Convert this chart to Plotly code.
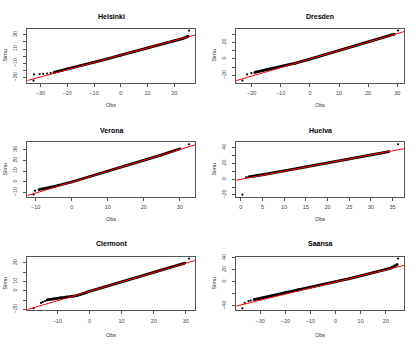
import plotly.graph_objects as go

# Q-Q plots of simulated vs observed values, one panel per station
stations = ["Helsinki", "Dresden", "Verona", "Huelva", "Clermont", "Saansa"]

# dense part of each Q-Q cloud (reads as a thick line)
helsinki_obs = [-25.0, -22.0, -20.0, -15.0, -10.0, -5.0, 0.0, 5.0, 10.0, 15.0, 20.0, 23.0, 25.2]
helsinki_simu = [-22.7, -20.0, -17.6, -13.3, -8.6, -3.7, 1.4, 6.4, 11.5, 16.6, 21.6, 24.6, 27.8]
dresden_obs = [-19.0, -15.0, -10.0, -5.0, 0.0, 5.0, 10.0, 15.0, 20.0, 25.0, 29.0]
dresden_simu = [-16.5, -13.3, -9.6, -5.3, -0.3, 4.8, 10.0, 15.2, 20.3, 25.5, 29.9]
verona_obs = [-9.1, -7.0, -5.0, 0.0, 5.0, 10.0, 15.0, 20.0, 25.0, 30.1]
verona_simu = [-7.4, -6.0, -4.5, -0.2, 4.8, 9.9, 15.0, 20.1, 25.2, 31.0]
huelva_obs = [1.75, 3.0, 5.0, 10.0, 15.0, 20.0, 25.0, 30.0, 34.2]
huelva_simu = [2.9, 3.8, 5.6, 10.4, 15.3, 20.4, 25.5, 30.5, 35.0]
clermont_obs = [-13.2, -11.0, -9.0, -7.0, -5.0, -4.0, -2.0, 0.0, 5.0, 10.0, 15.0, 20.0, 25.0, 29.7]
clermont_simu = [-9.9, -8.6, -7.6, -6.7, -5.8, -5.3, -3.0, -0.6, 4.4, 9.5, 14.6, 19.6, 24.7, 29.9]
saansa_obs = [-32.5, -30.0, -25.0, -20.0, -15.0, -10.0, -5.0, 0.0, 5.0, 10.0, 15.0, 20.0, 22.0, 24.6]
saansa_simu = [-29.4, -27.2, -22.3, -17.5, -12.8, -8.5, -4.3, -0.3, 4.8, 9.9, 14.9, 20.0, 22.8, 28.9]

# isolated points in the tails
helsinki_tail_obs = [-32.6, -32.4, -30.3, -29.0, -27.5, -26.2, 25.5]
helsinki_tail_simu = [-34.1, -25.5, -25.0, -24.6, -24.2, -23.6, 35.9]
dresden_tail_obs = [-23.2, -21.6, -20.1, 30.3]
dresden_tail_simu = [-26.4, -18.9, -17.3, 34.3]
verona_tail_obs = [-10.6, -10.2, 32.6]
verona_tail_simu = [-12.0, -8.3, 35.2]
huelva_tail_obs = [0.36, 1.2, 36.3]
huelva_tail_simu = [-19.5, 2.2, 44.2]
clermont_tail_obs = [-17.4, -15.1, -14.5, -13.8, 31.0]
clermont_tail_simu = [-18.9, -13.1, -12.0, -11.0, 34.8]
saansa_tail_obs = [-37.1, -36.2, -34.7, -33.8, 24.9]
saansa_tail_simu = [-44.0, -34.8, -32.0, -31.0, 38.7]

# red reference line: intercept, slope
helsinki_fit = [1.4, 1.016]
dresden_fit = [-0.34, 1.03]
verona_fit = [-0.35, 1.02]
huelva_fit = [-0.17, 1.03]
clermont_fit = [-0.65, 1.013]
saansa_fit = [-0.3, 1.01]

x_ticks = [
    [-30, -20, -10, 0, 10, 20],
    [-20, -10, 0, 10, 20, 30],
    [-10, 0, 10, 20, 30],
    [0, 5, 10, 15, 20, 25, 30, 35],
    [-10, 0, 10, 20, 30],
    [-30, -20, -10, 0, 10, 20],
]
y_ticks = [
    [-30, -20, -10, 0, 10, 20, 30],
    [-20, -10, 0, 10, 20, 30],
    [-10, 0, 10, 20, 30],
    [-20, -10, 0, 10, 20, 30, 40],
    [-20, -10, 0, 10, 20, 30],
    [-40, -20, 0, 20, 40],
]
# R drops y labels that would overlap
y_tick_labels = [
    ["-30", "", "-10", "", "10", "", "30"],
    ["-20", "", "0", "", "20", ""],
    ["-10", "0", "10", "20", "30"],
    ["-20", "", "0", "", "20", "", "40"],
    ["-20", "", "0", "10", "", "30"],
    ["-40", "", "0", "20", "40"],
]

obs = [helsinki_obs, dresden_obs, verona_obs, huelva_obs, clermont_obs, saansa_obs]
simu = [helsinki_simu, dresden_simu, verona_simu, huelva_simu, clermont_simu, saansa_simu]
tail_obs = [helsinki_tail_obs, dresden_tail_obs, verona_tail_obs, huelva_tail_obs, clermont_tail_obs, saansa_tail_obs]
tail_simu = [helsinki_tail_simu, dresden_tail_simu, verona_tail_simu, huelva_tail_simu, clermont_tail_simu, saansa_tail_simu]
fits = [helsinki_fit, dresden_fit, verona_fit, huelva_fit, clermont_fit, saansa_fit]

W, H = 418, 347
col_px = [(27.3, 195.3), (236.2, 404.3)]
row_px = [(26.0, 81.0), (141.7, 197.0), (258.0, 312.7)]
title_px = [13.3, 129.3, 245.0]
obs_px = [104.3, 220.3, 337.5]
simu_px = [5.0, 214.0]
FONT = "Liberation Sans"


def px_x(v):
    return v / W


def px_y(v):
    return 1 - v / H


def r_range(vals):
    lo, hi = min(vals), max(vals)
    d = hi - lo
    return [lo - 0.04 * d, hi + 0.04 * d]


def minus(s):
    return s.replace("-", "\u2212")


fig = go.Figure()
annotations = []
layout = {}

for i, name in enumerate(stations):
    row, col = divmod(i, 2)
    n = "" if i == 0 else str(i + 1)
    xa, ya = "x" + n, "y" + n

    xr = r_range(obs[i] + tail_obs[i])
    yr = r_range(simu[i] + tail_simu[i])

    fig.add_trace(go.Scatter(x=obs[i], y=simu[i], xaxis=xa, yaxis=ya, mode="lines+markers",
                             line=dict(color="black", width=2.8),
                             marker=dict(color="black", size=2.5), showlegend=False))
    fig.add_trace(go.Scatter(x=tail_obs[i], y=tail_simu[i], xaxis=xa, yaxis=ya, mode="markers",
                             marker=dict(color="black", size=2.2), showlegend=False))
    a, b = fits[i]
    fig.add_trace(go.Scatter(x=xr, y=[a + b * v for v in xr], xaxis=xa, yaxis=ya, mode="lines",
                             line=dict(color="#ff0000", width=1), showlegend=False))

    x0, x1 = col_px[col]
    y0, y1 = row_px[row]
    common = dict(showline=True, linecolor="#555", linewidth=1, mirror=True,
                  ticks="outside", ticklen=3, tickwidth=1, tickcolor="#555",
                  showgrid=False, zeroline=False,
                  tickfont=dict(family=FONT, size=5.5, color="#444"))
    layout["xaxis" + n] = dict(common, domain=[px_x(x0), px_x(x1)], range=xr, anchor=ya,
                               tickmode="array", tickvals=x_ticks[i],
                               ticktext=[minus(str(t)) for t in x_ticks[i]],
                               ticklabelstandoff=2)
    layout["yaxis" + n] = dict(common, domain=[px_y(y1), px_y(y0)], range=yr, anchor=xa,
                               tickmode="array", tickvals=y_ticks[i],
                               ticktext=[minus(t) for t in y_tick_labels[i]],
                               tickangle=-90, ticklabelstandoff=4)

    cx = px_x((x0 + x1) / 2)
    annotations.append(dict(text="<b>%s</b>" % name, x=cx, y=px_y(title_px[row]), xref="paper", yref="paper",
                            showarrow=False, xanchor="center", yanchor="middle",
                            font=dict(family=FONT, size=7, color="black")))
    annotations.append(dict(text="Obs", x=cx, y=px_y(obs_px[row]), xref="paper", yref="paper",
                            showarrow=False, xanchor="center", yanchor="middle",
                            font=dict(family=FONT, size=5.5, color="#333")))
    annotations.append(dict(text="Simu", x=px_x(simu_px[col]), y=px_y((y0 + y1) / 2), xref="paper", yref="paper",
                            showarrow=False, xanchor="center", yanchor="middle", textangle=-90,
                            font=dict(family=FONT, size=5.5, color="#333")))

fig.update_layout(**layout)
fig.update_layout(width=W, height=H, autosize=False,
                  margin=dict(l=0, r=0, t=0, b=0),
                  paper_bgcolor="white", plot_bgcolor="white",
                  annotations=annotations)

# drop the browser's default body margin so the figure sits at the page corner
fig.write_html("out.html", config={"displayModeBar": False},
               post_script="document.body.style.margin='0';")
